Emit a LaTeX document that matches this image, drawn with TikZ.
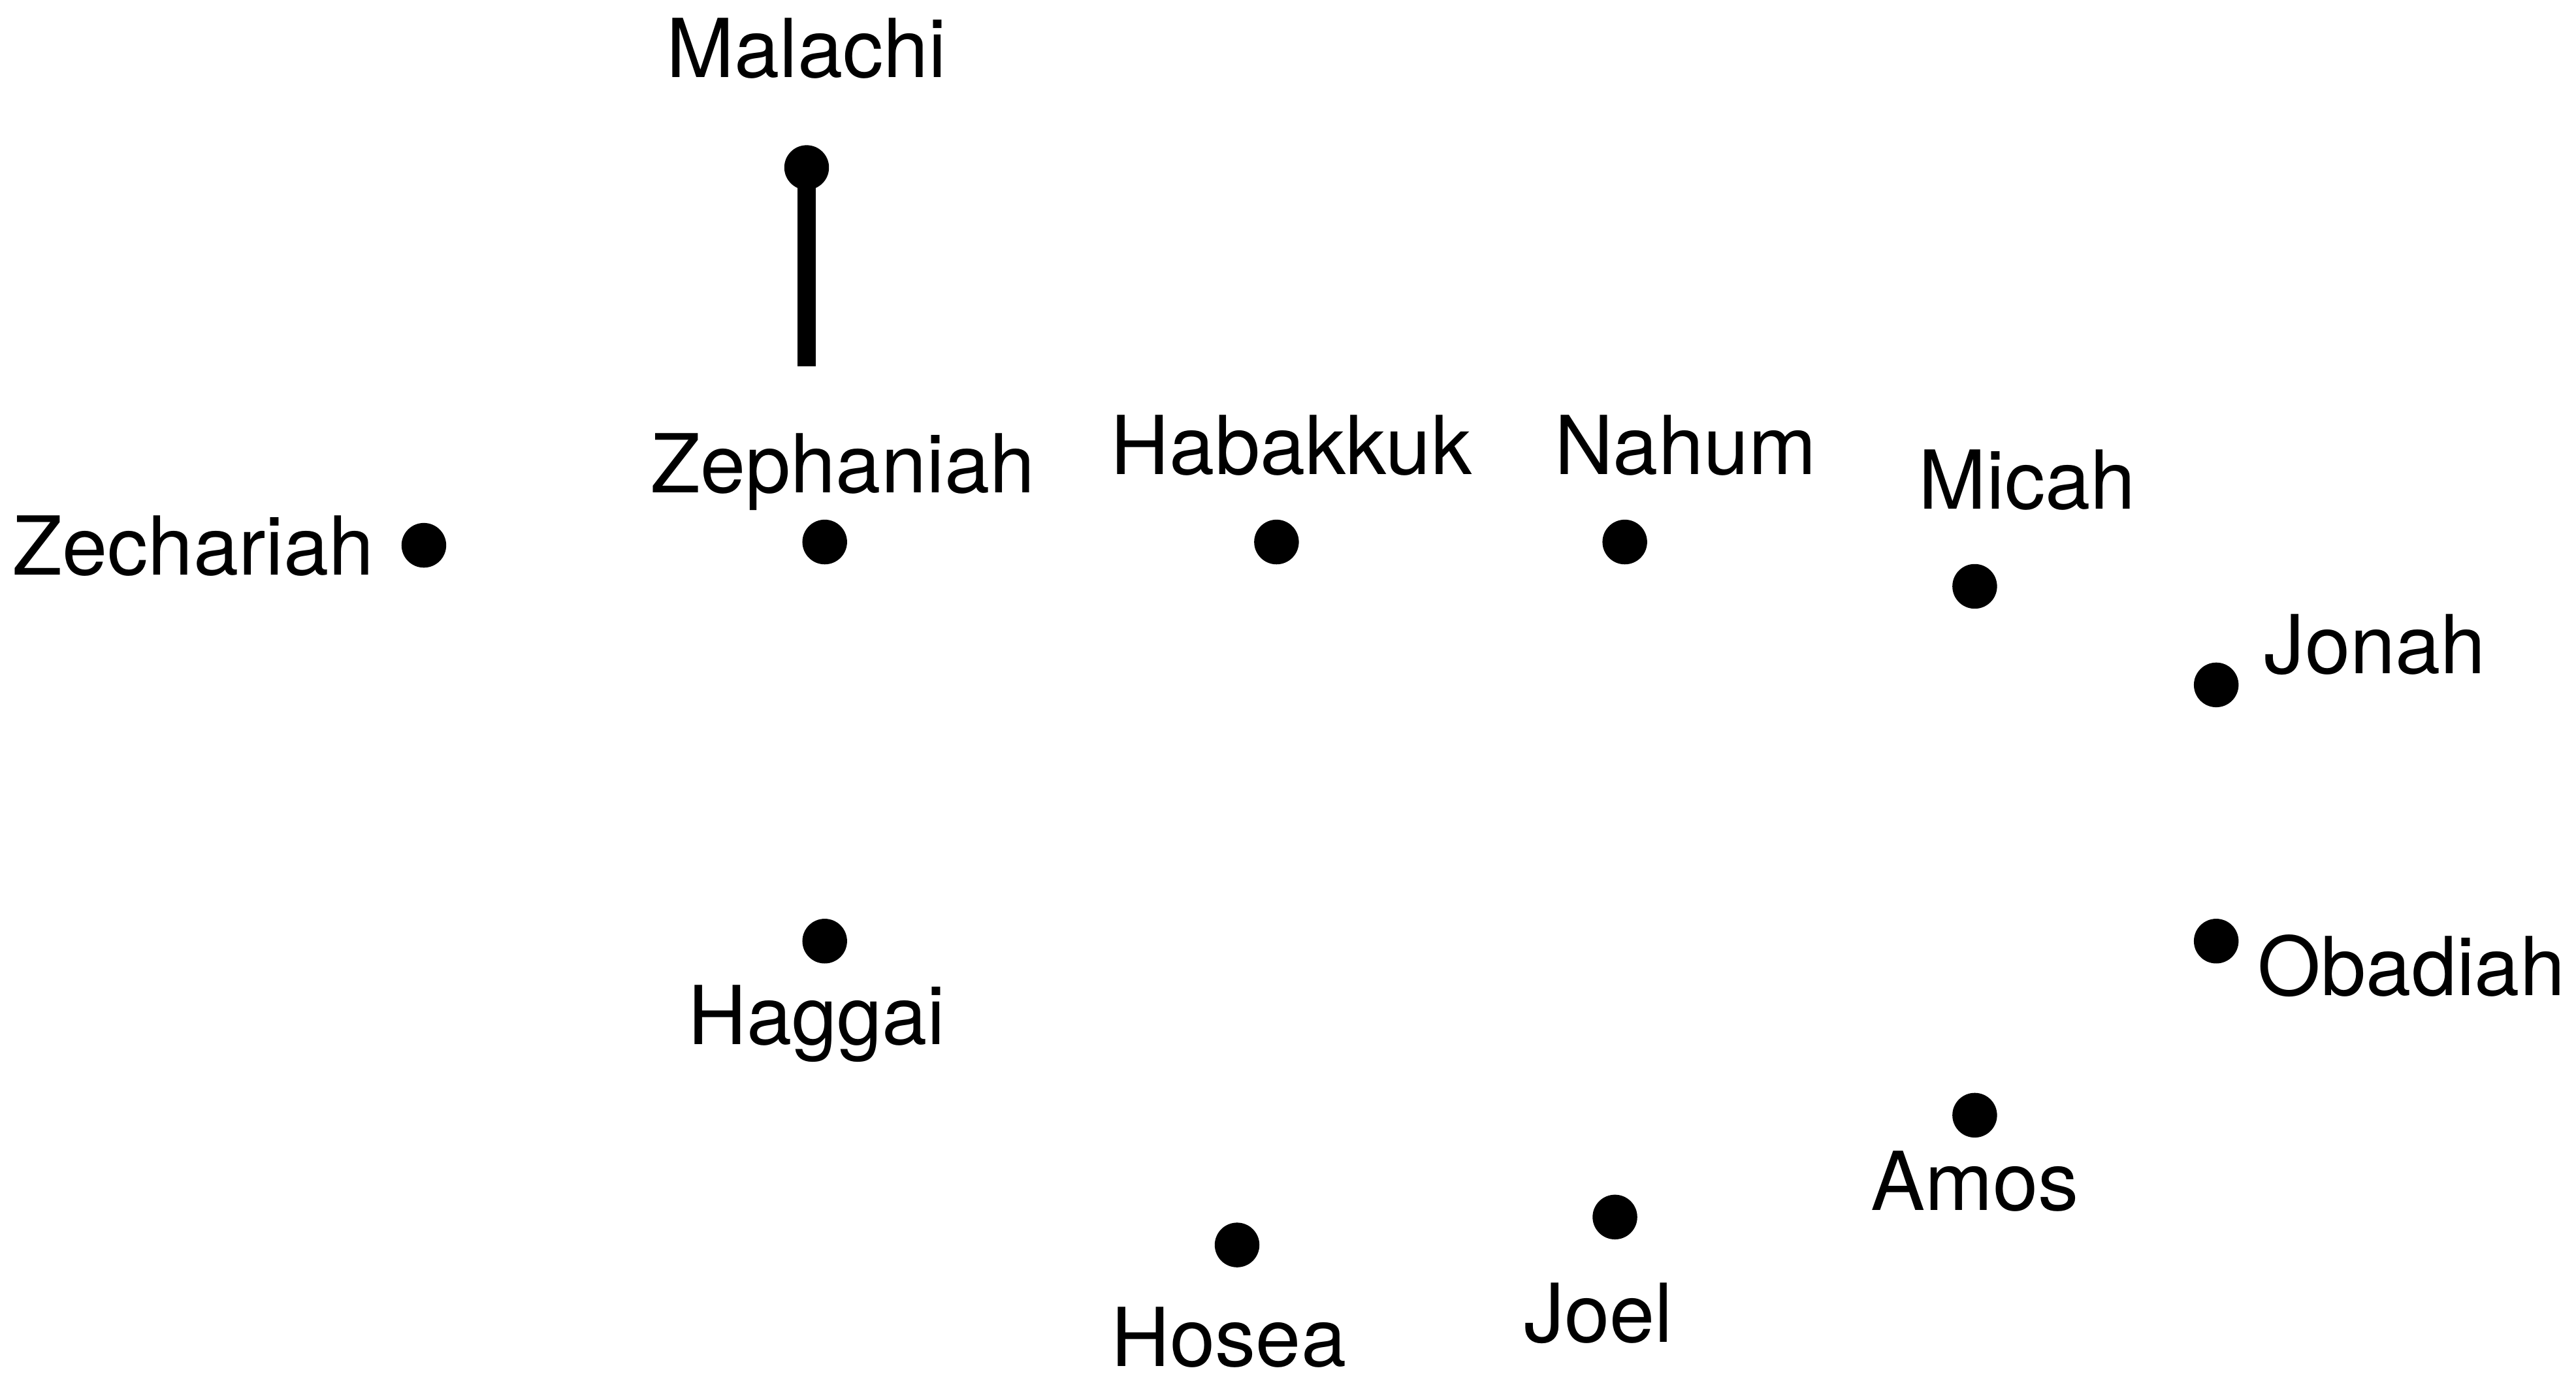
\documentclass[tikz,border=0pt]{standalone}
\usepackage{fontspec}
\setmainfont{TeX Gyre Heros}
\usepackage{tikz}

\begin{document}
\begin{tikzpicture}[x=0.025cm,y=-0.025cm,
    dot/.style={circle,fill=black,inner sep=0pt,minimum size=0.68cm},
    prophet/.style={inner sep=0pt,font=\fontsize{35.2}{40}\selectfont}]
  \useasboundingbox (0,0) rectangle (1568,842);
  % the points
  \foreach \n/\x/\y in {mal/491/102, zep/502/330, zec/258/332, hab/777/330,
      nah/989/330, mic/1202/357, jon/1349/417, oba/1349/573, amo/1202/679,
      joe/983/741, hos/753/758, hag/502/573}
    \node[dot] (\n) at (\x,\y) {};
  % the names
  \node[prophet,anchor=base] (malT) at (491,47) {Malachi};
  \node[prophet,anchor=base] (zepT) at (513,300) {Zephaniah};
  \node[prophet,anchor=base east] (zecT) at (228,350) {Zechariah};
  \node[prophet,anchor=base] (habT) at (786,289) {Habakkuk};
  \node[prophet,anchor=base] (nahT) at (1026,289) {Nahum};
  \node[prophet,anchor=base] (micT) at (1234,310) {Micah};
  \node[prophet,anchor=base west] (jonT) at (1378,410) {Jonah};
  \node[prophet,anchor=base west] (obaT) at (1374,606) {Obadiah};
  \node[prophet,anchor=base] (amoT) at (1202,737) {Amos};
  \node[prophet,anchor=base] (joeT) at (973,817) {Joel};
  \node[prophet,anchor=base] (hosT) at (748,832) {Hosea};
  \node[prophet,anchor=base] (hagT) at (497,636) {Haggai};
  % stub under Malachi
  \coordinate (stub) at (491,223);
  \draw[line width=0.28cm] (mal.center) -- (stub);
\end{tikzpicture}
\end{document}
